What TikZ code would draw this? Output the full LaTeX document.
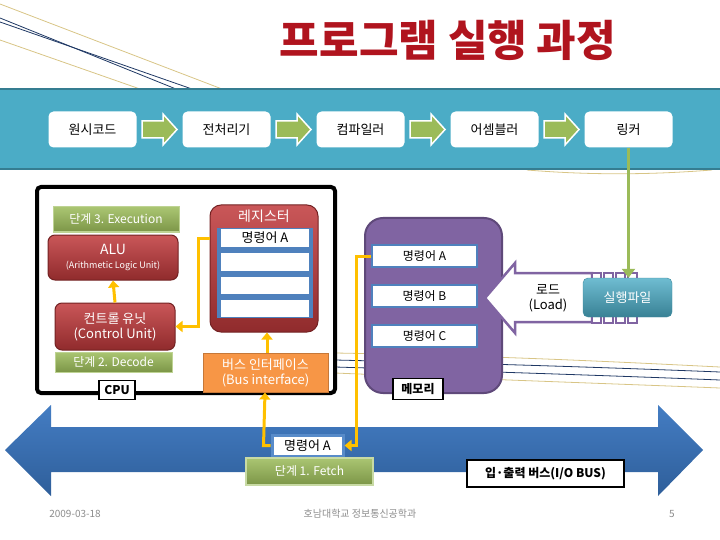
\documentclass[tikz,border=0pt]{standalone}
\usepackage{fontspec}
\setmainfont{Noto Sans CJK KR}
\usetikzlibrary{arrows.meta}
\definecolor{titlered}{HTML}{B0141E}
\definecolor{bandblue}{HTML}{4BACC6}
\definecolor{bandline}{HTML}{357D91}
\definecolor{leafgreen}{HTML}{9BBB59}
\definecolor{unitred}{HTML}{C0393B}
\definecolor{slotblue}{HTML}{4F81BD}
\definecolor{busorange}{HTML}{F79646}
\definecolor{mempurple}{HTML}{8064A2}
\definecolor{memline}{HTML}{5F497A}
\definecolor{wireyellow}{HTML}{FFC000}
\definecolor{busblue}{HTML}{3A76C0}
\definecolor{themegold}{HTML}{D8C586}
\definecolor{themenavy}{HTML}{1F3864}
\definecolor{footgray}{HTML}{8C8C8C}

\begin{document}
\begin{tikzpicture}[x=1pt, y=-1pt,
    every node/.style={font=\fontsize{13}{15}\selectfont, inner sep=0pt},
    stepbox/.style={rectangle, rounded corners=5pt, fill=white, minimum width=88pt, minimum height=36pt},
    phase/.style={rectangle, top color=leafgreen!85!white, bottom color=leafgreen!80!black, draw=leafgreen!65!white, line width=1pt, text=white, font=\fontsize{12}{14}\selectfont},
    unit/.style={rectangle, rounded corners=7pt, top color=unitred!85!white, bottom color=unitred!75!black, draw=unitred!60!black, line width=1pt, text=white, align=center},
    memslot/.style={rectangle, fill=white, draw=slotblue, line width=2pt, minimum width=105pt, minimum height=22pt, font=\fontsize{12}{14}\selectfont},
    regslot/.style={rectangle, fill=white, minimum width=88pt},
    tag/.style={rectangle, fill=white, draw=black, line width=1.5pt, font=\bfseries\fontsize{12}{14}\selectfont},
    wire/.style={draw=wireyellow, line width=3pt, -{Triangle[width=11pt,length=7pt]}},
    deco/.style={line width=0.8pt},
]
\useasboundingbox (0,0) rectangle (720,540);
% slide theme lines
\draw[deco, themegold] (0,4) -- (222,89);
\draw[deco, themenavy] (0,18) -- (176,89);
\draw[deco, themenavy] (0,22) -- (192,89);
\draw[deco, themegold] (0,40) -- (140,89);
\draw[deco, themegold] (527,170) .. controls (600,176) and (660,174) .. (712,170);
\draw[deco, themegold] (335,353) .. controls (500,356) and (620,362) .. (720,367);
\draw[deco, themenavy] (335,360) .. controls (500,364) and (620,368) .. (720,372);
\draw[deco, themenavy] (335,367) .. controls (500,372) and (620,376) .. (720,380);
\draw[deco, themegold] (335,373) .. controls (500,380) and (620,384) .. (720,388);

\node[font=\bfseries\fontsize{43}{47}\selectfont, text=titlered] (title) at (448,40) {프로그램 실행 과정};

% compile chain
\fill[bandblue, draw=bandline, line width=2pt] (-2,89) rectangle (722,169);
\foreach \name/\txt [count=\i from 0] in {src/원시코드, pre/전처리기, comp/컴파일러, asm/어셈블러, lnk/링커}
    \node[stepbox] (\name) at ({92.5+134*\i},129.5) {\txt};
\foreach \i in {0,...,3} {
    \begin{scope}[xshift={134*\i}]
    \filldraw[fill=leafgreen, draw=white, line width=1.5pt] (142,121) -- (163,121) -- (163,114) -- (177,129.5) -- (163,145) -- (163,138) -- (142,138) -- cycle;
    \end{scope}
}

% CPU
\draw[line width=4pt, rounded corners=4pt] (37,187) rectangle (335,393);
\node[phase, minimum width=126pt, minimum height=25pt] (exec) at (116,219.5) {단계 3. Execution};
\node[unit, minimum width=130pt, minimum height=45pt] (alu) at (113,257.5) {{\fontsize{14}{16}\selectfont ALU}\\[-1pt]{\fontsize{9}{11}\selectfont(Arithmetic Logic Unit)}};
\node[unit, minimum width=120pt, minimum height=47pt] (ctrl) at (115,326.5) {컨트롤 유닛\\(Control Unit)};
\node[phase, minimum width=117pt, minimum height=20pt] (decode) at (113.5,362) {단계 2. Decode};
\node[tag, minimum width=36pt, minimum height=19pt] (cpu) at (117,390) {CPU};
\node[unit, rounded corners=11pt, minimum width=108pt, minimum height=127pt] (reg) at (264,268.5) {};
\node[text=white, font=\fontsize{14}{16}\selectfont] (regtitle) at (264,216) {레지스터};
\fill[slotblue] (217,228) rectangle (313,318);
\node[regslot, minimum height=17pt] (regA) at (265,238) {명령어 A};
\node[regslot, minimum height=18pt] (regB) at (265,262) {};
\node[regslot, minimum height=17pt] (regC) at (265,285) {};
\node[regslot, minimum height=17pt] (regD) at (265,308.5) {};
\node[rectangle, fill=busorange, draw=busorange!80!black, line width=1pt, text=white, align=center, minimum width=125pt, minimum height=39pt] (busif) at (265.5,372.5) {버스 인터페이스\\(Bus interface)};

% memory
\node[rectangle, rounded corners=18pt, fill=mempurple, draw=memline, line width=2pt, minimum width=137pt, minimum height=175pt] (mem) at (433.5,305.5) {};
\node[memslot] (memA) at (424.5,256) {명령어 A};
\node[memslot] (memB) at (424.5,296) {명령어 B};
\node[memslot] (memC) at (424.5,336) {명령어 C};
\node[tag, minimum width=50pt, minimum height=21pt] (memtag) at (418,389) {메모리};

% load
\filldraw[fill=white, draw=mempurple, line width=2.5pt] (485,298) -- (515,263) -- (515,273) -- (592,273) -- (592,322) -- (515,322) -- (515,333) -- cycle;
\node[align=center] (load) at (548,298) {로드\\(Load)};
\foreach \c in {0,...,3}
    \draw[mempurple, line width=1.5pt, fill=white] ({592+12*\c},273) rectangle ++(9,50);
\node[rectangle, rounded corners=5pt, top color=bandblue!80!white, bottom color=bandblue!75!black, draw=bandblue!80!black, text=white, minimum width=89pt, minimum height=39pt] (exe) at (627.5,297.5) {실행파일};
\draw[draw=leafgreen, line width=3pt, -{Triangle[width=13pt,length=9pt]}] (lnk.south) -- (lnk.south |- exe.north);

% I/O bus
\shade[top color=busblue!95!white, bottom color=busblue!80!black] (5,450) -- (51,405) -- (51,427) -- (658,427) -- (658,405) -- (703,450) -- (658,496) -- (658,472) -- (51,472) -- (51,496) -- cycle;
\node[rectangle, fill=white, draw=busblue!85!white, line width=3pt, minimum width=71pt, minimum height=21pt] (fetchcmd) at (307.5,445.5) {명령어 A};
\node[phase, draw=leafgreen!55!white, line width=2pt, minimum width=127pt, minimum height=27pt] (fetch) at (309.5,471.5) {단계 1. Fetch};
\node[tag, line width=2.5pt, minimum width=157pt, minimum height=27pt] (iobus) at (545.5,473.5) {입·출력 버스(I/O BUS)};

% yellow data paths
\draw[wire] (fetchcmd.west) -- ++(-7,0) -- (busif.south -| 265,0);
\draw[wire] (memA.west) -- ++(-15,0) |- (fetchcmd.east);
\draw[wire] (busif.north -| 267,0) -- (reg.south -| 267,0);
\draw[wire] (reg.west |- regA.center) -- ++(-11,0) |- (ctrl.east);
\draw[wire] (ctrl.north) -- (alu.south);

\node[text=footgray, font=\fontsize{10}{12}\selectfont] (date) at (75,514) {2009-03-18};
\node[text=footgray, font=\fontsize{10}{12}\selectfont] (school) at (360,514) {호남대학교 정보통신공학과};
\node[text=footgray, font=\fontsize{10}{12}\selectfont] (page) at (672,514) {5};
\end{tikzpicture}
\end{document}
